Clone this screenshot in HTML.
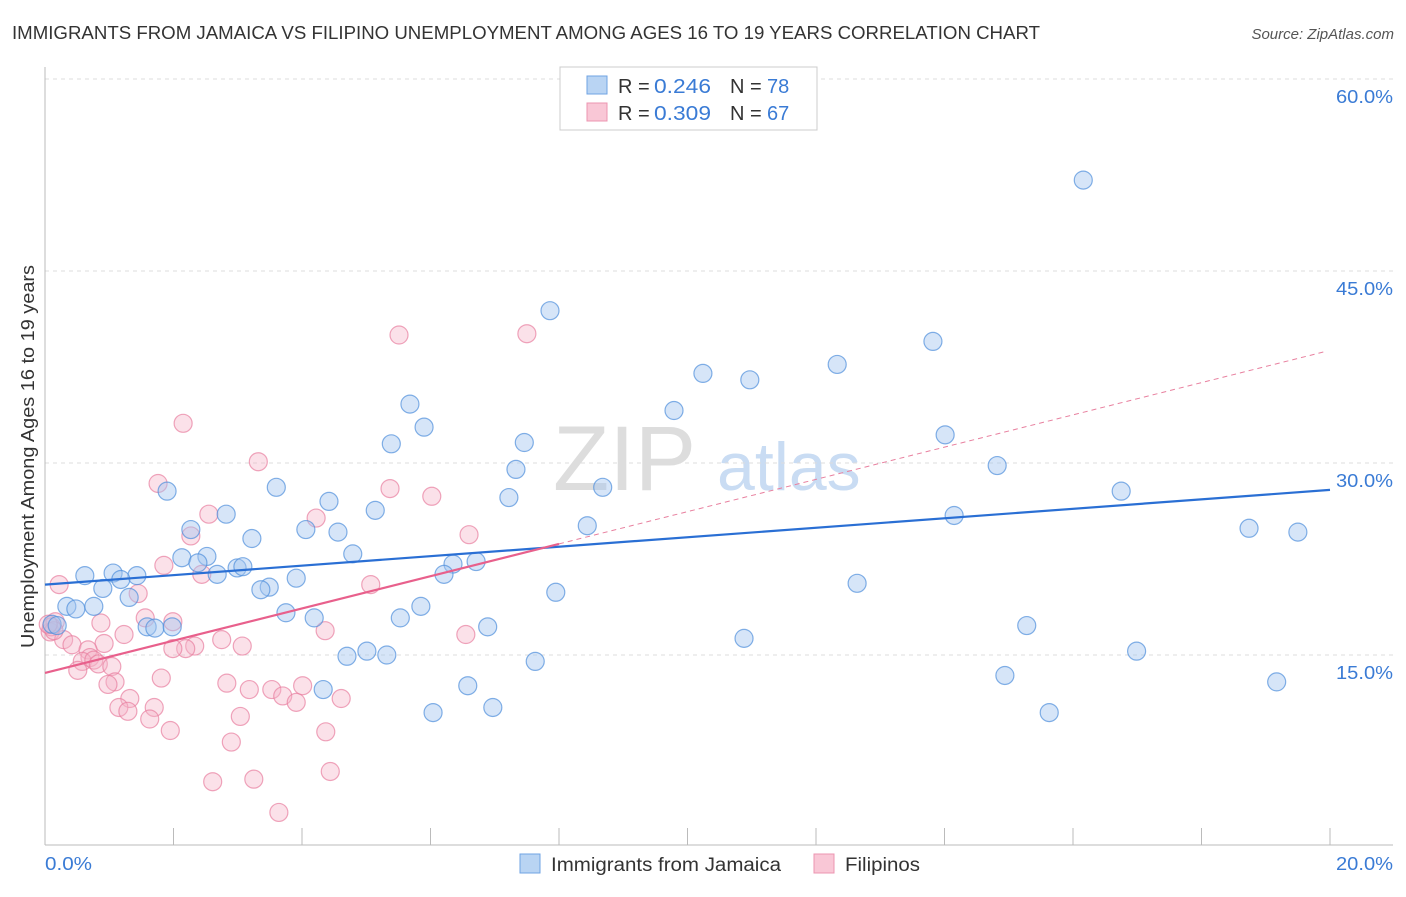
<!DOCTYPE html>
<html><head><meta charset="utf-8"><style>
body{margin:0;background:#fff;font-family:"Liberation Sans",sans-serif;}
svg text{font-family:"Liberation Sans",sans-serif;}
</style></head><body>
<svg id="chart" width="1406" height="892">
<text x="12" y="39" font-size="18" fill="#333" textLength="1028" lengthAdjust="spacingAndGlyphs">IMMIGRANTS FROM JAMAICA VS FILIPINO UNEMPLOYMENT AMONG AGES 16 TO 19 YEARS CORRELATION CHART</text>
<text x="1394" y="39" font-size="15" fill="#555" font-style="italic" text-anchor="end">Source: ZipAtlas.com</text>
<g>
<text x="553" y="490" font-size="92" fill="#ddd" font-family="Liberation Serif">ZIP</text>
<text x="717" y="490" font-size="68" fill="#c9dcf3">atlas</text>
</g>
<g id="grid"></g>
<g id="axes"></g>
<g id="marks"></g>
<text transform="translate(34,648) rotate(-90)" font-size="18" fill="#333" textLength="383" lengthAdjust="spacingAndGlyphs">Unemployment Among Ages 16 to 19 years</text>
<text x="45" y="870" font-size="18" fill="#3a7bd5" textLength="47" lengthAdjust="spacingAndGlyphs">0.0%</text>
<text x="1336" y="870" font-size="18" fill="#3a7bd5" textLength="57" lengthAdjust="spacingAndGlyphs">20.0%</text>
<g>
<rect x="560" y="67" width="257" height="63" fill="#fff" stroke="#ccc"/>
<rect x="587" y="76" width="20" height="18" fill="#b9d4f3" stroke="#6fa3e3"/>
<rect x="587" y="103" width="20" height="18" fill="#f9c7d6" stroke="#ec94b0"/>
<text x="618" y="93" font-size="20" fill="#333">R = <tspan x="654" fill="#3a7bd5" textLength="57" lengthAdjust="spacingAndGlyphs">0.246</tspan><tspan x="730">N = </tspan><tspan x="767" fill="#3a7bd5">78</tspan></text>
<text x="618" y="120" font-size="20" fill="#333">R = <tspan x="654" fill="#3a7bd5" textLength="57" lengthAdjust="spacingAndGlyphs">0.309</tspan><tspan x="730">N = </tspan><tspan x="767" fill="#3a7bd5">67</tspan></text>
</g>
<g>
<rect x="520" y="854" width="20" height="19" fill="#b9d4f3" stroke="#6fa3e3"/>
<text x="551" y="871" font-size="19" fill="#333" textLength="230" lengthAdjust="spacingAndGlyphs">Immigrants from Jamaica</text>
<rect x="814" y="854" width="20" height="19" fill="#f9c7d6" stroke="#ec94b0"/>
<text x="845" y="871" font-size="19" fill="#333" textLength="75" lengthAdjust="spacingAndGlyphs">Filipinos</text>
</g>
</svg>
<script>
const yTicks=[15,30,45,60];
const yTickLabels=["15.0%","30.0%","45.0%","60.0%"];
const jamX=[16.16,7.86,13.82,12.33,10.24,10.97,5.68,9.79,5.90,14.01,5.39,7.46,7.33,14.82,16.75,1.90,3.60,8.68,7.22,4.42,2.82,5.14,14.15,18.74,19.50,8.44,2.27,4.06,4.56,3.22,4.79,2.13,2.52,6.71,6.35,2.38,2.99,3.08,2.68,6.21,0.62,1.06,1.43,1.18,3.91,12.64,3.49,3.36,0.90,7.95,1.31,0.34,0.48,0.76,5.85,3.75,5.53,4.19,0.11,0.19,15.28,1.59,1.71,1.98,6.89,10.88,16.99,5.01,4.70,5.32,7.63,14.94,19.17,6.58,4.33,6.97,6.04,15.63];
const jamY=[52.1,41.9,39.5,37.7,37.0,36.5,34.6,34.1,32.8,32.2,31.5,31.6,29.5,29.8,27.8,27.8,28.1,28.1,27.3,27.0,26.0,26.3,25.9,24.9,24.6,25.1,24.8,24.8,24.6,24.1,22.9,22.6,22.7,22.3,22.1,22.2,21.8,21.9,21.3,21.3,21.2,21.4,21.2,20.9,21.0,20.6,20.3,20.1,20.2,19.9,19.5,18.8,18.6,18.8,18.8,18.3,17.9,17.9,17.4,17.3,17.3,17.2,17.1,17.2,17.2,16.3,15.3,15.3,14.9,15.0,14.5,13.4,12.9,12.6,12.3,10.9,10.5,10.5];
const filX=[5.51,7.50,2.15,3.32,1.76,5.37,6.02,2.55,4.22,6.60,2.27,1.85,2.44,0.22,5.07,1.45,1.56,1.99,0.87,0.16,0.08,1.23,4.36,6.55,2.75,0.92,3.07,0.29,0.42,2.33,2.19,1.99,0.67,0.70,0.58,0.76,0.83,0.51,1.04,1.81,1.09,0.98,2.83,3.53,3.18,4.01,3.70,3.91,4.61,1.32,1.15,1.29,1.70,1.63,3.04,1.95,4.37,2.90,4.44,3.25,2.61,3.64,0.10,0.14,0.05];
const filY=[40.0,40.1,33.1,30.1,28.4,28.0,27.4,26.0,25.7,24.4,24.3,22.0,21.3,20.5,20.5,19.8,17.9,17.6,17.5,17.6,16.8,16.6,16.9,16.6,16.2,15.9,15.7,16.2,15.8,15.7,15.5,15.5,15.4,14.8,14.5,14.6,14.3,13.8,14.1,13.2,12.9,12.7,12.8,12.3,12.3,12.6,11.8,11.3,11.6,11.6,10.9,10.6,10.9,10.0,10.2,9.1,9.0,8.2,5.9,5.3,5.1,2.7,17.2,16.9,17.4];
const jamTrend=[20.5,0.37];
const filTrend=[13.6,1.26];
const filSolidEnd=8.0;

const NS="http://www.w3.org/2000/svg";
const X=v=>45+v/20*1285;
const Y=v=>847-v/60*768;
function mk(parent,tag,attrs){const e=document.createElementNS(NS,tag);for(const k in attrs)e.setAttribute(k,attrs[k]);document.getElementById(parent).appendChild(e);return e;}

yTicks.forEach((t,i)=>{
 const g=mk('grid','line',{x1:45,x2:1393,y1:Y(t),y2:Y(t),stroke:'#ddd','stroke-dasharray':'4,4'});
 
 
 const l=mk('grid','text',{x:1393,y:Y(t)+24,'font-size':18,fill:'#3a7bd5','text-anchor':'end',textLength:57,lengthAdjust:'spacingAndGlyphs'});
 l.textContent=yTickLabels[i];
 
 
});
const ax=mk('axes','line',{x1:45,x2:45,y1:67,y2:845,stroke:'#bbb'});


const bx=mk('axes','line',{x1:45,x2:1393,y1:845,y2:845,stroke:'#bbb'});


for(let i=0;i<=10;i++){
 const t=mk('axes','line',{x1:X(i*2),x2:X(i*2),y1:828,y2:845,stroke:'#bbb'});
 
 
}
function dots(xs,ys,fill,stroke,op,name){
 xs.forEach((x,i)=>{
  const c=mk('marks','circle',{cx:X(x),cy:Y(ys[i]),r:9,fill:fill,'fill-opacity':op,stroke:stroke,'stroke-width':1.2,'stroke-opacity':0.7});
  
  
 });
}
dots(filX,filY,'#f6b3c8','#e87fa0',0.4,'filipino-point');
dots(jamX,jamY,'#a5c6ef','#4f8fdc',0.45,'jamaica-point');
const jl=mk('marks','line',{x1:X(0),y1:Y(jamTrend[0]),x2:X(20),y2:Y(jamTrend[0]+jamTrend[1]*20),stroke:'#2a6fd4','stroke-width':2.2});


const fl=mk('marks','line',{x1:X(0),y1:Y(filTrend[0]),x2:X(filSolidEnd),y2:Y(filTrend[0]+filTrend[1]*filSolidEnd),stroke:'#e8608c','stroke-width':2.2});


const fd=mk('marks','line',{x1:X(filSolidEnd),y1:Y(filTrend[0]+filTrend[1]*filSolidEnd),x2:X(19.95),y2:Y(filTrend[0]+filTrend[1]*19.95),stroke:'#e8809f','stroke-width':1,'stroke-dasharray':'5,4'});


</script>
</body></html>
